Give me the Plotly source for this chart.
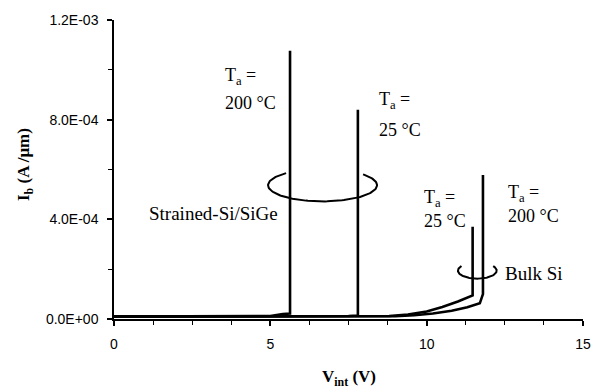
import numpy as np
import plotly.graph_objects as go

# Body current vs. internal voltage, strained-Si/SiGe vs. bulk Si
sige_200_v = [0, 2, 4, 5.0, 5.4, 5.6, 5.63, 5.63]
sige_200_i = [1.0e-5, 1.0e-5, 1.0e-5, 1.2e-5, 2.0e-5, 2.2e-5, 2.2e-5, 1.077e-3]

sige_25_v = [0, 3, 6, 7.5, 7.8, 7.8]
sige_25_i = [1.0e-5, 1.0e-5, 1.0e-5, 1.2e-5, 1.4e-5, 8.40e-4]

bulk_25_v = [0, 2, 4, 6, 8, 8.8, 9.4, 10.0, 10.5, 11.0, 11.47, 11.47]
bulk_25_i = [1.0e-5, 1.0e-5, 1.0e-5, 1.0e-5, 1.0e-5, 1.2e-5, 1.8e-5,
             3.0e-5, 4.8e-5, 7.0e-5, 9.5e-5, 3.70e-4]

bulk_200_v = [0, 2, 4, 6, 8, 9.0, 9.6, 10.2, 10.8, 11.3, 11.70, 11.80, 11.80]
bulk_200_i = [1.0e-5, 1.0e-5, 1.0e-5, 1.0e-5, 1.0e-5, 1.1e-5, 1.5e-5,
              2.2e-5, 3.3e-5, 4.7e-5, 6.3e-5, 1.0e-4, 5.78e-4]

y_tick_vals = [0, 4e-4, 8e-4, 1.2e-3]
y_tick_text = ["0.0E+00", "4.0E-04", "8.0E-04", "1.2E-03"]
x_tick_vals = [0, 5, 10, 15]
x_tick_text = ["0", "5", "10", "15"]

SERIF = "Liberation Serif, Times New Roman, serif"
SANS = "Liberation Sans, Arial, sans-serif"

fig = go.Figure()

for v, i in [(sige_200_v, sige_200_i), (sige_25_v, sige_25_i),
             (bulk_25_v, bulk_25_i), (bulk_200_v, bulk_200_i)]:
    fig.add_trace(go.Scatter(x=v, y=i, mode="lines",
                             line=dict(color="black", width=2.6),
                             showlegend=False, hoverinfo="skip"))


def ring(cx, cy, rx, ry, a0, a1):
    """Open ellipse drawn from angle a0 round the bottom to a1 (degrees)."""
    t = np.radians(np.linspace(a0, a1, 120))
    return cx + rx * np.cos(t), cy + ry * np.sin(t)


# group rings around the breakdown lines
for cx, cy, rx, ry, a0, a1 in [(6.67, 5.37e-4, 1.743, 6.5e-5, 132, 402),
                               (11.62, 1.94e-4, 0.62, 3.2e-5, 145, 395)]:
    rxs, rys = ring(cx, cy, rx, ry, a0, a1)
    fig.add_trace(go.Scatter(x=rxs, y=rys, mode="lines",
                             line=dict(color="black", width=2),
                             showlegend=False, hoverinfo="skip"))

labels = [
    (3.49, 9.74e-4, "T<sub>a</sub> =", 18), (3.49, 8.67e-4, "200 °C", 18),
    (8.41, 8.75e-4, "T<sub>a</sub> =", 18), (8.41, 7.60e-4, "25 °C", 18),
    (9.85, 4.83e-4, "T<sub>a</sub> =", 18), (9.85, 3.92e-4, "25 °C", 18),
    (12.54, 5.03e-4, "T<sub>a</sub> =", 18), (12.54, 4.12e-4, "200 °C", 18),
    (1.05, 4.22e-4, "Strained-Si/SiGe", 19),
    (12.45, 1.82e-4, "Bulk Si", 19),
]
for x, y, t, s in labels:
    fig.add_annotation(x=x, y=y, text=t, showarrow=False, xanchor="left",
                       yanchor="middle", font=dict(family=SERIF, size=s, color="black"))

# axis titles
fig.add_annotation(xref="paper", yref="paper", x=0.5, y=0, yshift=-59,
                   text="<b>V<sub>int</sub> (V)</b>", showarrow=False,
                   xanchor="center", yanchor="middle",
                   font=dict(family=SERIF, size=17, color="black"))
fig.add_annotation(xref="paper", yref="paper", x=0, xshift=-89, y=0.515,
                   text="<b>I<sub>b</sub> (A /μm)</b>", showarrow=False, textangle=-90,
                   xanchor="center", yanchor="middle",
                   font=dict(family=SERIF, size=17, color="black"))

axis_common = dict(showgrid=False, zeroline=False, showline=True,
                   linecolor="black", linewidth=1.5, ticks="outside",
                   tickcolor="black", tickwidth=1.5, ticklen=5,
                   tickfont=dict(family=SANS, size=14, color="black"))

fig.update_xaxes(range=[0, 15], tickvals=x_tick_vals, ticktext=x_tick_text,
                 ticklabelstandoff=6,
                 minor=dict(ticks="outside", dtick=1.25, ticklen=4,
                            tickcolor="black", tickwidth=1),
                 **axis_common)
fig.update_yaxes(range=[0, 1.2e-3], tickvals=y_tick_vals, ticktext=y_tick_text,
                 ticklabelstandoff=6,
                 minor=dict(ticks="outside", dtick=2e-4, ticklen=4,
                            tickcolor="black", tickwidth=1),
                 **axis_common)

fig.update_layout(width=603, height=389,
                  margin=dict(l=114, r=20, t=16, b=70),
                  plot_bgcolor="white", paper_bgcolor="white")

fig.write_html("out.html")
